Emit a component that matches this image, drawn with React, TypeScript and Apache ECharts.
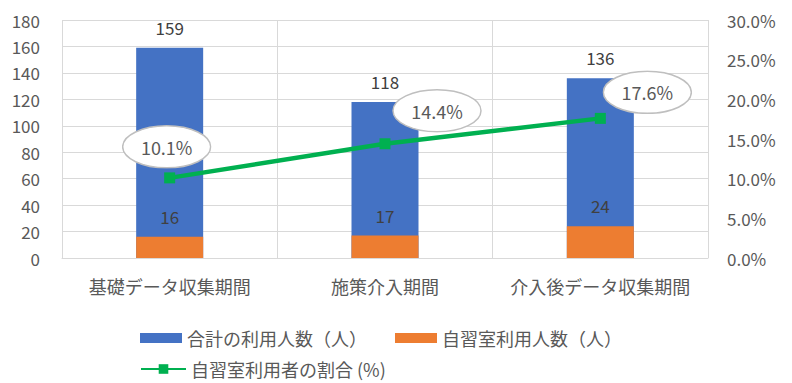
import React, { useEffect, useRef } from "react";
import * as echarts from "echarts";

const categories = ["基礎データ収集期間", "施策介入期間", "介入後データ収集期間"];
const totalUsers = [159, 118, 136];
const studyRoomUsers = [16, 17, 24];
const ratio = [0.101, 0.144, 0.176];
const ratioLabelOffsets = [
  [-3, -31],
  [52, -33],
  [47, -26],
];
const leftTicks = { min: 0, max: 180, interval: 20 };
const rightTicks = { min: 0, max: 0.3, interval: 0.05 };

const FONT = '"Noto Sans CJK JP", "Noto Sans", sans-serif';
const TXT = "#595959";

const ellipseSvg =
  "data:image/svg+xml;charset=utf-8," +
  encodeURIComponent(
    "<svg xmlns='http://www.w3.org/2000/svg' width='90' height='44' viewBox='0 0 90 44'><ellipse cx='45' cy='22' rx='44' ry='21' fill='#ffffff' stroke='#bfbfbf' stroke-width='1.5'/></svg>"
  );

export default function App() {
  const ref = useRef<HTMLDivElement>(null);
  useEffect(() => {
    if (!ref.current) return;
    const chart = echarts.init(ref.current, undefined, { renderer: "svg" });
    chart.setOption({
      animation: false,
      textStyle: { fontFamily: FONT, color: TXT },
      grid: { left: 62, right: 84, top: 20, bottom: 125 },
      legend: [
        {
          data: ["合計の利用人数（人）", "自習室利用人数（人）"],
          left: 135,
          top: 324,
          itemWidth: 42,
          itemHeight: 10,
          itemGap: 28,
          icon: "rect",
          textStyle: { fontFamily: FONT, color: TXT, fontSize: 18 },
        },
        {
          data: ["自習室利用者の割合 (%)"],
          left: 135,
          top: 355,
          itemWidth: 45,
          itemHeight: 12,
          textStyle: { fontFamily: FONT, color: TXT, fontSize: 18 },
        },
      ],
      xAxis: {
        type: "category",
        data: categories,
        axisLine: { lineStyle: { color: "#d9d9d9", width: 1 } },
        axisTick: { show: false },
        axisLabel: { color: TXT, fontSize: 18, fontFamily: FONT, margin: 19, interval: 0 },
        splitLine: { show: true, interval: 0, lineStyle: { color: "#d9d9d9" } },
        boundaryGap: true,
      },
      yAxis: [
        {
          type: "value",
          ...leftTicks,
          axisLine: { show: false },
          axisTick: { show: false },
          axisLabel: { color: TXT, fontSize: 17, fontFamily: FONT, margin: 22 },
          splitLine: { lineStyle: { color: "#d9d9d9" } },
        },
        {
          type: "value",
          ...rightTicks,
          axisLine: { show: false },
          axisTick: { show: false },
          splitLine: { show: false },
          axisLabel: {
            color: TXT,
            fontSize: 17,
            fontFamily: FONT,
            margin: 19,
            formatter: (v: number) => (v * 100).toFixed(1) + "%",
          },
        },
      ],
      series: [
        {
          name: "合計の利用人数（人）",
          type: "bar",
          data: totalUsers,
          barWidth: 67,
          itemStyle: { color: "#4472C4" },
          label: { show: true, position: "top", distance: 12, color: "#404040", fontSize: 17, fontFamily: FONT },
        },
        {
          name: "自習室利用人数（人）",
          type: "bar",
          data: studyRoomUsers,
          barWidth: 67,
          barGap: "-100%",
          itemStyle: { color: "#ED7D31" },
          label: { show: true, position: "top", distance: 12, color: "#404040", fontSize: 17, fontFamily: FONT },
        },
        {
          name: "自習室利用者の割合 (%)",
          type: "line",
          yAxisIndex: 1,
          data: ratio.map((v, i) => ({
            value: v,
            label: { offset: ratioLabelOffsets[i] },
          })),
          symbol: "rect",
          symbolSize: 11,
          lineStyle: { color: "#00B050", width: 4.5 },
          itemStyle: { color: "#00B050" },
          z: 5,
          label: {
            show: true,
            position: "inside",
            formatter: (p: any) => "{e|" + (p.value * 100).toFixed(1) + "%}",
            rich: {
              e: {
                width: 90,
                height: 44,
                lineHeight: 44,
                align: "center",
                verticalAlign: "middle",
                color: TXT,
                fontSize: 18,
                fontFamily: FONT,
                backgroundColor: { image: ellipseSvg },
              },
            },
          },
        },
      ],
    });
    return () => chart.dispose();
  }, []);
  return (
    <div
      ref={ref}
      style={{ position: "fixed", left: 0, top: 0, width: 792, height: 383, background: "#fff" }}
    />
  );
}
